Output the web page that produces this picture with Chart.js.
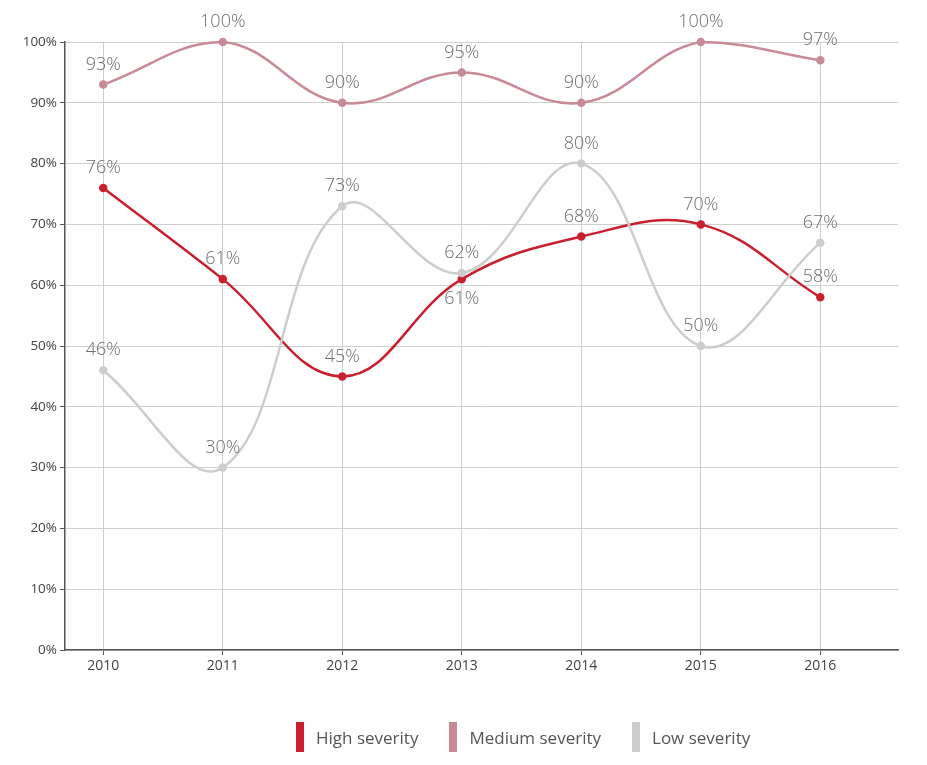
<!DOCTYPE html>
<html>
<head>
<meta charset="utf-8">
<script src="https://cdn.jsdelivr.net/npm/chart.js@4.4.0/dist/chart.umd.min.js"></script>
<style>
  html, body { margin: 0; padding: 0; background: #fff; }
  #wrap { position: relative; width: 927px; height: 765px; }
  #legend { position: absolute; top: 722px; left: 296px; display: flex; font-family: "Open Sans", sans-serif; font-size: 17px; color: #555; }
  .item { display: flex; align-items: center; margin-right: 31px; }
  .sw { width: 8px; height: 30px; margin-right: 12px; }
</style>
</head>
<body>
<div id="wrap">
  <canvas id="c" width="927" height="765"></canvas>
  <div id="legend"></div>
</div>
<script>
const years = [2010, 2011, 2012, 2013, 2014, 2015, 2016];
const highSeverity = [76, 61, 45, 61, 68, 70, 58];
const mediumSeverity = [93, 100, 90, 95, 90, 100, 97];
const lowSeverity = [46, 30, 73, 62, 80, 50, 67];
const seriesNames = ["High severity", "Medium severity", "Low severity"];
const yTicks = [0, 10, 20, 30, 40, 50, 60, 70, 80, 90, 100];
const colors = ["#c8202e", "#c98a97", "#cdcdcd"];
// label placement: 1 above, -1 below
const highPos = [1, 1, 1, -1, 1, 1, 1];

function toPts(arr) { return arr.map((v, i) => ({ x: years[i], y: v })); }

const labelPlugin = {
  id: 'valueLabels',
  afterDatasetsDraw(chart) {
    const ctx = chart.ctx;
    ctx.save();
    ctx.font = '300 18px "Open Sans", sans-serif';
    ctx.fillStyle = '#6e6e6e';
    ctx.textAlign = 'center';
    ctx.textBaseline = 'middle';
    chart.data.datasets.forEach((ds, di) => {
      const meta = chart.getDatasetMeta(di);
      meta.data.forEach((pt, i) => {
        const pos = ds.labelPos ? ds.labelPos[i] : 1;
        const y = pos > 0 ? pt.y - 20 : pt.y + 20;
        ctx.fillText(ds.data[i].y + '%', pt.x, y);
      });
    });
    ctx.restore();
  }
};

const datasets = [
  { label: seriesNames[0], data: toPts(highSeverity), labelPos: highPos },
  { label: seriesNames[1], data: toPts(mediumSeverity) },
  { label: seriesNames[2], data: toPts(lowSeverity) }
].map((d, i) => Object.assign(d, {
  borderColor: colors[i],
  backgroundColor: colors[i],
  borderWidth: 2.5,
  pointRadius: 3,
  pointHoverRadius: 3,
  tension: 0.4,
  clip: false,
  order: 3 - i
}));

new Chart(document.getElementById('c'), {
  type: 'line',
  data: { datasets },
  options: {
    responsive: false,
    animation: false,
    events: [],
    layout: { padding: { top: 42, right: 29, left: 0, bottom: 0 } },
    plugins: { legend: { display: false }, tooltip: { enabled: false } },
    scales: {
      x: {
        type: 'linear',
        min: 2009.68,
        max: 2016.65,
        afterBuildTicks(scale) { scale.ticks = years.map(v => ({ value: v })); },
        afterFit(scale) { scale.height = 115; },
        grid: { color: '#cfcfcf', lineWidth: 1, tickColor: '#555', tickLength: 5, drawTicks: true },
        border: { color: '#555', width: 1.5 },
        ticks: { color: '#444', font: { family: '"Open Sans", sans-serif', size: 14 }, padding: 3, callback: v => String(v) }
      },
      y: {
        min: 0,
        max: 100,
        afterBuildTicks(scale) { scale.ticks = yTicks.map(v => ({ value: v })); },
        afterFit(scale) { scale.width = 65; },
        grid: { color: '#cfcfcf', lineWidth: 1, tickColor: '#555', tickLength: 5 },
        border: { color: '#555', width: 1.5 },
        ticks: { color: '#444', font: { family: '"Open Sans", sans-serif', size: 13.5 }, padding: 3, callback: v => v + '%' }
      }
    }
  },
  plugins: [labelPlugin]
});

const lg = document.getElementById('legend');
seriesNames.forEach((n, i) => {
  const it = document.createElement('div');
  it.className = 'item';
  const sw = document.createElement('div');
  sw.className = 'sw';
  sw.style.background = colors[i];
  const t = document.createElement('span');
  t.textContent = n;
  it.appendChild(sw); it.appendChild(t);
  lg.appendChild(it);
});
</script>
</body>
</html>
